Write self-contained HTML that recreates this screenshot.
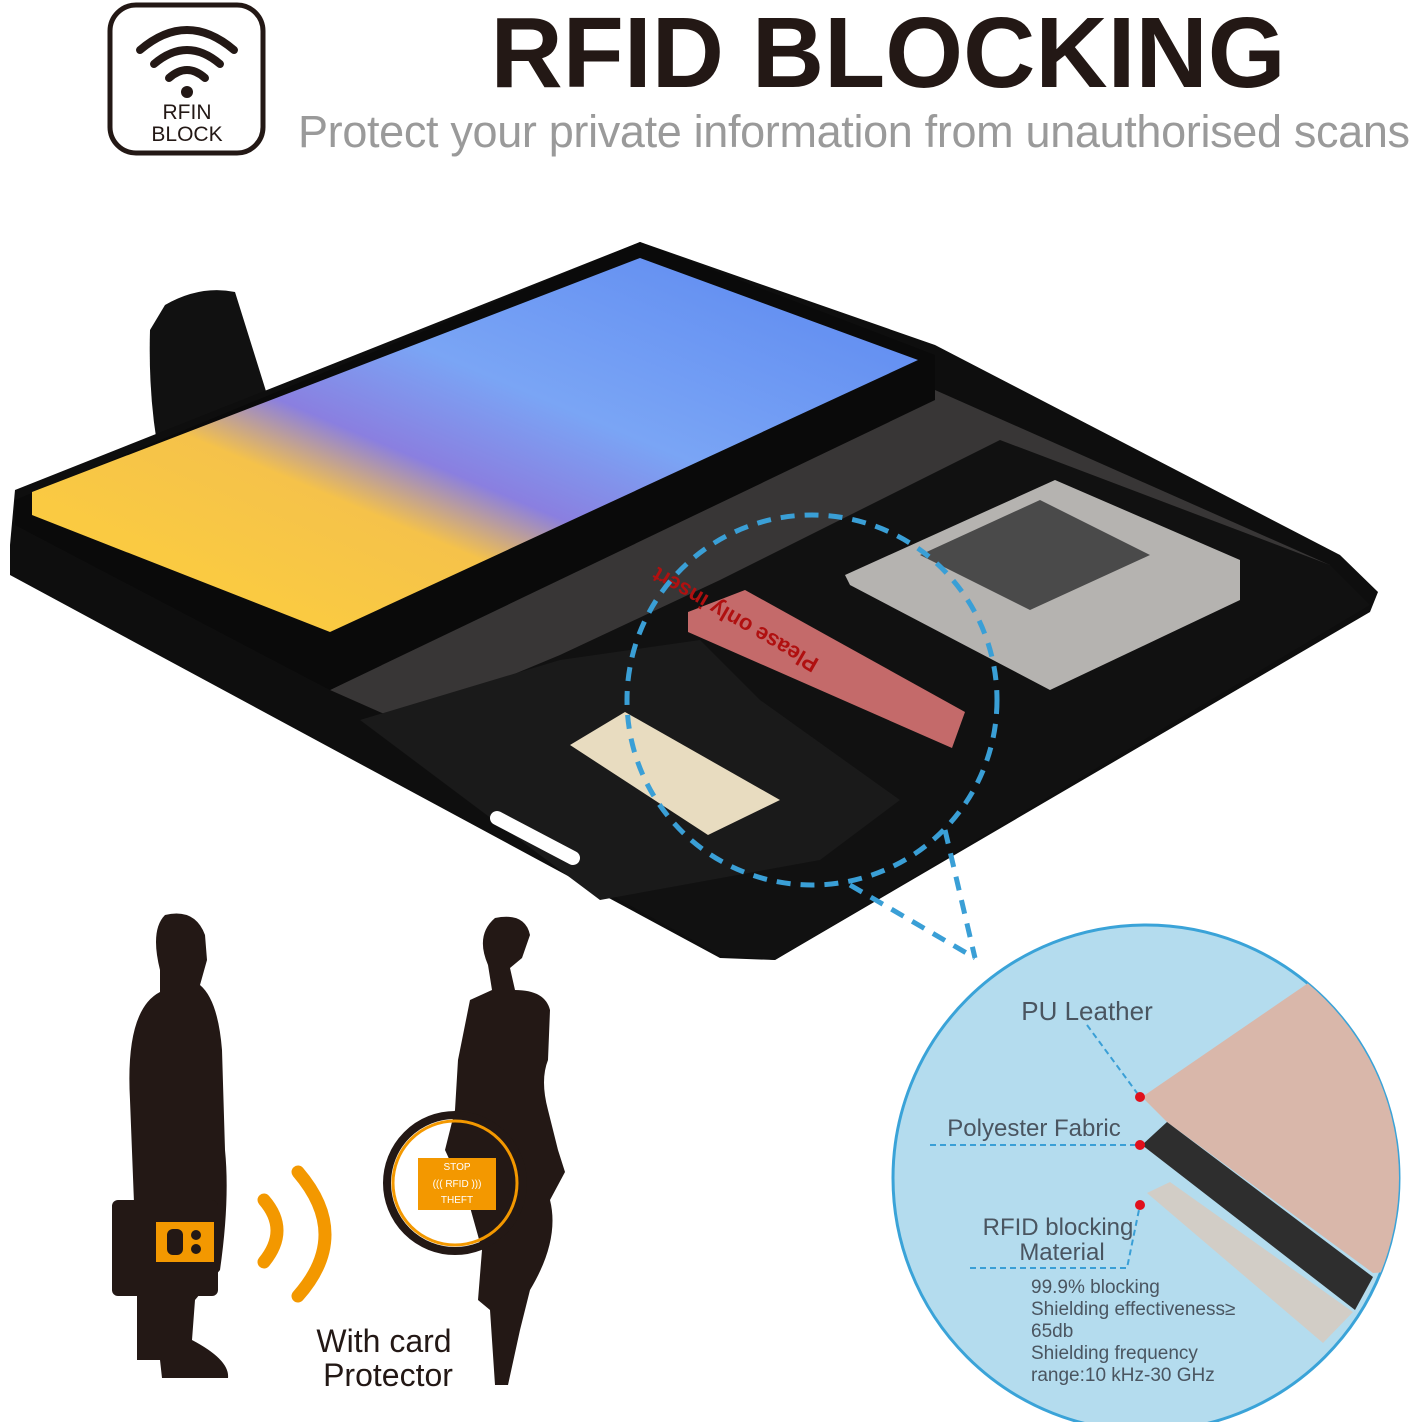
<!DOCTYPE html>
<html><head><meta charset="utf-8"><style>
html,body{margin:0;padding:0;background:#fff;}
svg{display:block;}
text{font-family:"Liberation Sans",sans-serif;}
</style></head><body>
<svg width="1413" height="1422" viewBox="0 0 1413 1422" xmlns="http://www.w3.org/2000/svg">
<defs>
<linearGradient id="scr" x1="0" y1="1" x2="1" y2="0">
<stop offset="0" stop-color="#ffd23a"/><stop offset="0.35" stop-color="#f5c24a"/>
<stop offset="0.45" stop-color="#8a7fe0"/><stop offset="0.6" stop-color="#7aa5f5"/><stop offset="1" stop-color="#5a86f0"/>
</linearGradient>
<clipPath id="cc"><circle cx="1146" cy="1178" r="253"/></clipPath>
</defs>
<!-- top icon -->
<rect x="110" y="5" width="153" height="148" rx="26" fill="none" stroke="#231815" stroke-width="5"/>
<path d="M140 50 Q187 10 234 50" fill="none" stroke="#231815" stroke-width="8" stroke-linecap="round"/>
<path d="M154 64 Q187 36 220 64" fill="none" stroke="#231815" stroke-width="8" stroke-linecap="round"/>
<path d="M169 78 Q187 62 205 78" fill="none" stroke="#231815" stroke-width="8" stroke-linecap="round"/>
<circle cx="187" cy="92" r="6" fill="#231815"/>
<text x="187" y="119" font-size="21" text-anchor="middle" fill="#231815">RFIN</text>
<text x="187" y="141" font-size="21" text-anchor="middle" fill="#231815">BLOCK</text>
<text x="888" y="87" font-size="100" font-weight="bold" text-anchor="middle" fill="#231815" textLength="795">RFID BLOCKING</text>
<text x="298" y="147" font-size="45" fill="#9a9a9a" textLength="1112">Protect your private information from unauthorised scans</text>
<!-- clasp -->
<path d="M165 305 Q200 285 235 292 L275 420 L160 460 Q148 400 150 330 Z" fill="#111"/>
<!-- wallet -->
<polygon points="10,545 15,490 640,242 935,345 1340,555 1378,592 1370,612 775,960 720,958 10,575" fill="#0e0e0e"/>
<polygon points="330,690 935,390 1330,565 760,880" fill="#383636"/>
<polygon points="380,730 560,655 720,580 1000,440 1330,565 1370,605 775,960 720,955 620,900" fill="#111"/>
<polygon points="360,720 560,660 700,640 760,700 900,800 820,860 600,900" fill="#1a1a1a"/>
<!-- phone -->
<polygon points="15,500 640,242 935,355 935,400 330,690 15,525" fill="#0a0a0a"/>
<polygon points="32,492 640,258 918,360 330,632 32,515" fill="url(#scr)"/>
<!-- card window -->
<polygon points="845,575 1055,480 1240,560 1240,600 1050,690 850,585" fill="#b5b3b0"/>
<polygon points="920,555 1040,500 1150,555 1030,610" fill="#4a4a4a"/>
<!-- red card -->
<polygon points="688,612 745,590 965,712 952,748 688,632" fill="#c46a6a"/>
<text x="820" y="660" font-size="22" font-weight="bold" fill="#b01010" transform="rotate(30 820 660) rotate(180 820 660)">Please only insert</text>
<!-- money -->
<polygon points="570,745 625,712 780,800 708,835" fill="#e8dcc0"/>
<line x1="497" y1="818" x2="573" y2="858" stroke="#fff" stroke-width="14" stroke-linecap="round"/>
<!-- dashed circle -->
<circle cx="812" cy="700" r="185" fill="none" stroke="#3a9fd6" stroke-width="5" stroke-dasharray="14 10"/>
<line x1="850" y1="885" x2="975" y2="958" stroke="#3a9fd6" stroke-width="5" stroke-dasharray="14 10"/>
<line x1="945" y1="830" x2="975" y2="958" stroke="#3a9fd6" stroke-width="5" stroke-dasharray="14 10"/>
<!-- big circle -->
<circle cx="1146" cy="1178" r="253" fill="#b4dcee" stroke="#3aa3d8" stroke-width="3"/>
<g clip-path="url(#cc)">
<polygon points="1142,1097 1320,975 1420,1000 1420,1270 1373,1273 1167,1122" fill="#d9b7aa"/>
<polygon points="1142,1145 1167,1122 1373,1277 1355,1310" fill="#2e2e2e"/>
<polygon points="1147,1193 1170,1182 1353,1312 1323,1343" fill="#d2cdc6"/>
</g>
<g stroke="#3a9fd6" stroke-width="2" stroke-dasharray="6 4" fill="none">
<polyline points="1087,1025 1140,1097"/>
<polyline points="930,1145 1140,1145"/>
<polyline points="970,1268 1127,1268 1140,1205"/>
</g>
<circle cx="1140" cy="1097" r="5" fill="#e0101c"/>
<circle cx="1140" cy="1145" r="5" fill="#e0101c"/>
<circle cx="1140" cy="1205" r="5" fill="#e0101c"/>
<g fill="#4a5560">
<text x="1087" y="1020" font-size="26" text-anchor="middle">PU Leather</text>
<text x="1034" y="1136" font-size="24" text-anchor="middle">Polyester Fabric</text>
<text x="1058" y="1235" font-size="24" text-anchor="middle">RFID blocking</text>
<text x="1062" y="1260" font-size="24" text-anchor="middle">Material</text>
<text x="1031" y="1293" font-size="19">99.9% blocking</text>
<text x="1031" y="1315" font-size="19">Shielding effectiveness≥</text>
<text x="1031" y="1337" font-size="19">65db</text>
<text x="1031" y="1359" font-size="19">Shielding frequency</text>
<text x="1031" y="1381" font-size="19">range:10 kHz-30 GHz</text>
</g>
<!-- man -->
<path d="M165 915 Q195 908 205 935 L207 960 L200 985 Q218 1000 222 1050 L225 1150 Q230 1200 220 1270 L195 1300 L192 1340 Q230 1360 228 1378 L162 1378 L160 1360 L137 1360 L137 1280 L130 1100 Q125 1010 160 992 L160 970 Q150 930 165 915 Z" fill="#231815"/>
<rect x="112" y="1200" width="106" height="96" rx="6" fill="#231815"/>
<rect x="156" y="1222" width="58" height="40" fill="#f39800"/>
<rect x="167" y="1229" width="16" height="26" rx="6" fill="#231815"/>
<circle cx="196" cy="1235" r="5" fill="#231815"/><circle cx="196" cy="1249" r="5" fill="#231815"/>
<!-- arcs -->
<path d="M264 1200 Q290 1230 264 1262" fill="none" stroke="#f39800" stroke-width="13" stroke-linecap="round"/>
<path d="M298 1172 Q352 1235 298 1296" fill="none" stroke="#f39800" stroke-width="13" stroke-linecap="round"/>
<!-- woman -->
<path d="M495 918 Q525 912 530 935 L522 958 L510 968 L515 990 Q545 990 550 1010 L548 1060 Q540 1080 548 1110 L558 1150 L565 1172 L550 1200 Q560 1240 530 1290 L520 1330 L508 1385 L495 1385 L490 1310 L478 1300 L482 1250 L468 1200 L445 1150 L455 1110 L458 1060 L470 1000 L492 990 L488 965 Q475 935 495 918 Z" fill="#231815"/>
<circle cx="455" cy="1183" r="68" fill="none" stroke="#231815" stroke-width="8"/>
<circle cx="455" cy="1183" r="62" fill="none" stroke="#f39800" stroke-width="3"/>
<rect x="418" y="1158" width="78" height="52" fill="#f39800"/>
<text x="457" y="1170" font-size="10" fill="#fff" text-anchor="middle">STOP</text>
<text x="457" y="1187" font-size="10" fill="#fff" text-anchor="middle">((( RFID )))</text>
<text x="457" y="1203" font-size="10" fill="#fff" text-anchor="middle">THEFT</text>
<text x="384" y="1352" font-size="32" fill="#231815" text-anchor="middle">With card</text>
<text x="388" y="1386" font-size="32" fill="#231815" text-anchor="middle">Protector</text>
</svg>
</body></html>
